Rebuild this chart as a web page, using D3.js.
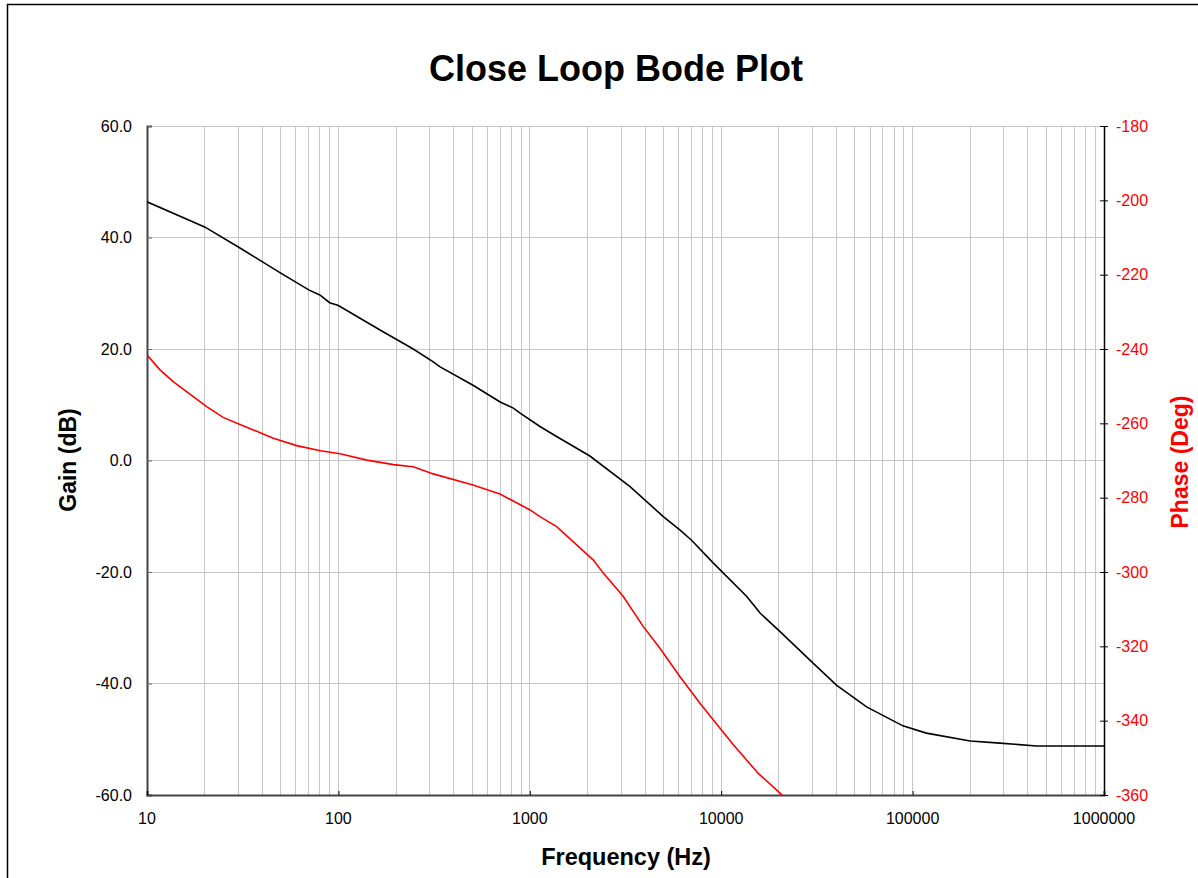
<!DOCTYPE html>
<html>
<head>
<meta charset="utf-8">
<script src="https://cdn.jsdelivr.net/npm/d3@7"></script>
<style>
  body { margin: 0; background: #fff; }
  text { font-family: Arial, "Liberation Sans", sans-serif; }
</style>
</head>
<body>
<svg id="chart" width="1198" height="878"></svg>
<script>
// gain curve
const gainFreq = [10, 20, 30, 50, 70, 80, 90, 100, 165, 246, 313, 340, 505, 700, 820, 890, 1130, 1380, 2060, 3340, 5000, 6100, 7000, 9100, 13600, 16000, 20300, 30300, 40000, 57500, 89000, 118000, 200000, 286000, 445000, 1000000];
const gainDb = [46.4, 41.9, 38.3, 33.6, 30.6, 29.7, 28.3, 27.8, 23.4, 20.0, 17.7, 16.8, 13.5, 10.5, 9.4, 8.5, 6.1, 4.3, 0.8, -4.7, -10.1, -12.5, -14.3, -18.4, -24.4, -27.4, -30.7, -36.4, -40.3, -44.2, -47.6, -48.9, -50.3, -50.7, -51.2, -51.2];

// phase curve
const phaseFreq = [10, 11.7, 13.7, 20.5, 25, 30.6, 45.7, 60.5, 80.6, 102, 141, 194, 246, 313, 505, 698, 1003, 1130, 1381, 2148, 2421, 3080, 3918, 4786, 6095, 7745, 9100, 11570, 15630, 20290, 25000];
const phaseDeg = [-241.6, -245.6, -248.8, -255.5, -258.4, -260.3, -264.0, -266.0, -267.4, -268.2, -269.9, -271.1, -271.7, -273.6, -276.6, -279.0, -283.3, -285.1, -287.8, -296.8, -300.3, -306.6, -314.7, -320.5, -328.2, -335.3, -339.8, -346.5, -354.2, -359.5, -364];

const freqTicks = [10, 100, 1000, 10000, 100000, 1000000];
const gainTicks = [-60, -40, -20, 0, 20, 40, 60];
const phaseTicks = [-360, -340, -320, -300, -280, -260, -240, -220, -200, -180];

const svg = d3.select("#chart");
const plotL = 147, plotT = 126, plotR = 1104, plotB = 795;

const x = d3.scaleLog().domain([10, 1e6]).range([plotL, plotR]);
const yGain = d3.scaleLinear().domain([-60, 60]).range([plotB, plotT]);
const yPhase = d3.scaleLinear().domain([-360, -180]).range([plotB, plotT]);

// outer frame (runs off the right/bottom edge like the original)
svg.append("path")
  .attr("d", "M7.5,880 L7.5,4.5 L1200,4.5")
  .attr("fill", "none").attr("stroke", "#000").attr("stroke-width", 1.5);

// title
svg.append("text")
  .attr("x", 616).attr("y", 81)
  .attr("text-anchor", "middle")
  .attr("font-size", 36).attr("font-weight", "bold")
  .text("Close Loop Bode Plot");

// grid
const minors = [];
for (let d = 10; d < 1e6; d *= 10) {
  for (let k = 1; k <= 9; k++) minors.push(d * k);
}
minors.push(1e6);

svg.append("g").selectAll("line")
  .data(minors)
  .join("line")
    .attr("x1", d => x(d)).attr("x2", d => x(d))
    .attr("y1", plotT).attr("y2", plotB)
    .attr("stroke", "#c6c6c6").attr("stroke-width", 1)
    .attr("shape-rendering", "crispEdges");

svg.append("g").selectAll("line")
  .data(gainTicks)
  .join("line")
    .attr("x1", plotL).attr("x2", plotR)
    .attr("y1", d => yGain(d)).attr("y2", d => yGain(d))
    .attr("stroke", "#c6c6c6").attr("stroke-width", 1)
    .attr("shape-rendering", "crispEdges");

// left axis
const gAxisL = svg.append("g").attr("transform", `translate(${plotL},0)`)
  .call(d3.axisRight(yGain).tickValues(gainTicks).tickSize(5).tickFormat(""));
gAxisL.select(".domain").attr("stroke", "#444").attr("stroke-width", 2);
gAxisL.selectAll(".tick line").attr("stroke", "#666");

svg.append("g").selectAll("text")
  .data(gainTicks)
  .join("text")
    .attr("x", 132).attr("y", d => yGain(d))
    .attr("dy", "0.35em").attr("text-anchor", "end")
    .attr("font-size", 16).attr("fill", "#000")
    .text(d => d.toFixed(1));

// bottom axis
const gAxisB = svg.append("g").attr("transform", `translate(0,${plotB})`)
  .call(d3.axisTop(x).tickValues(freqTicks).tickSize(4).tickFormat(""));
gAxisB.select(".domain").attr("stroke", "#444").attr("stroke-width", 2);
gAxisB.selectAll(".tick line").attr("stroke", "#000");

svg.append("g").selectAll("text")
  .data(freqTicks)
  .join("text")
    .attr("x", d => x(d)).attr("y", 818)
    .attr("dy", "0.35em").attr("text-anchor", "middle")
    .attr("font-size", 16).attr("fill", "#000")
    .text(d => String(d));

// right axis
const gAxisR = svg.append("g").attr("transform", `translate(${plotR},0)`)
  .call(d3.axisRight(yPhase).tickValues(phaseTicks).tickSizeInner(4).tickSizeOuter(0).tickFormat(""));
gAxisR.select(".domain").attr("stroke", "#000").attr("stroke-width", 1.5);
gAxisR.selectAll(".tick line").attr("x1", -4).attr("stroke", "#000");

svg.append("g").selectAll("text")
  .data(phaseTicks)
  .join("text")
    .attr("x", 1116).attr("y", d => yPhase(d))
    .attr("dy", "0.35em").attr("text-anchor", "start")
    .attr("font-size", 16).attr("fill", "#ff0000")
    .text(d => String(d));

// axis titles
svg.append("text")
  .attr("transform", "translate(76,460) rotate(-90)")
  .attr("text-anchor", "middle")
  .attr("font-size", 23).attr("font-weight", "bold")
  .text("Gain (dB)");

svg.append("text")
  .attr("transform", "translate(1188,462) rotate(-90)")
  .attr("text-anchor", "middle")
  .attr("font-size", 23).attr("font-weight", "bold").attr("fill", "#ff0000")
  .text("Phase (Deg)");

svg.append("text")
  .attr("x", 626).attr("y", 865)
  .attr("text-anchor", "middle")
  .attr("font-size", 23.5).attr("font-weight", "bold")
  .text("Frequency (Hz)");

// curves
svg.append("clipPath").attr("id", "plot-clip")
  .append("rect")
    .attr("x", plotL).attr("y", plotT)
    .attr("width", plotR - plotL).attr("height", plotB - plotT);

const gainLine = d3.line()
  .x((d, i) => x(gainFreq[i]))
  .y(d => yGain(d));

const phaseLine = d3.line()
  .x((d, i) => x(phaseFreq[i]))
  .y(d => yPhase(d));

svg.append("path")
  .attr("clip-path", "url(#plot-clip)")
  .attr("d", phaseLine(phaseDeg))
  .attr("fill", "none").attr("stroke", "#ff0000").attr("stroke-width", 1.6);

svg.append("path")
  .attr("clip-path", "url(#plot-clip)")
  .attr("d", gainLine(gainDb))
  .attr("fill", "none").attr("stroke", "#000").attr("stroke-width", 1.6);
</script>
</body>
</html>
